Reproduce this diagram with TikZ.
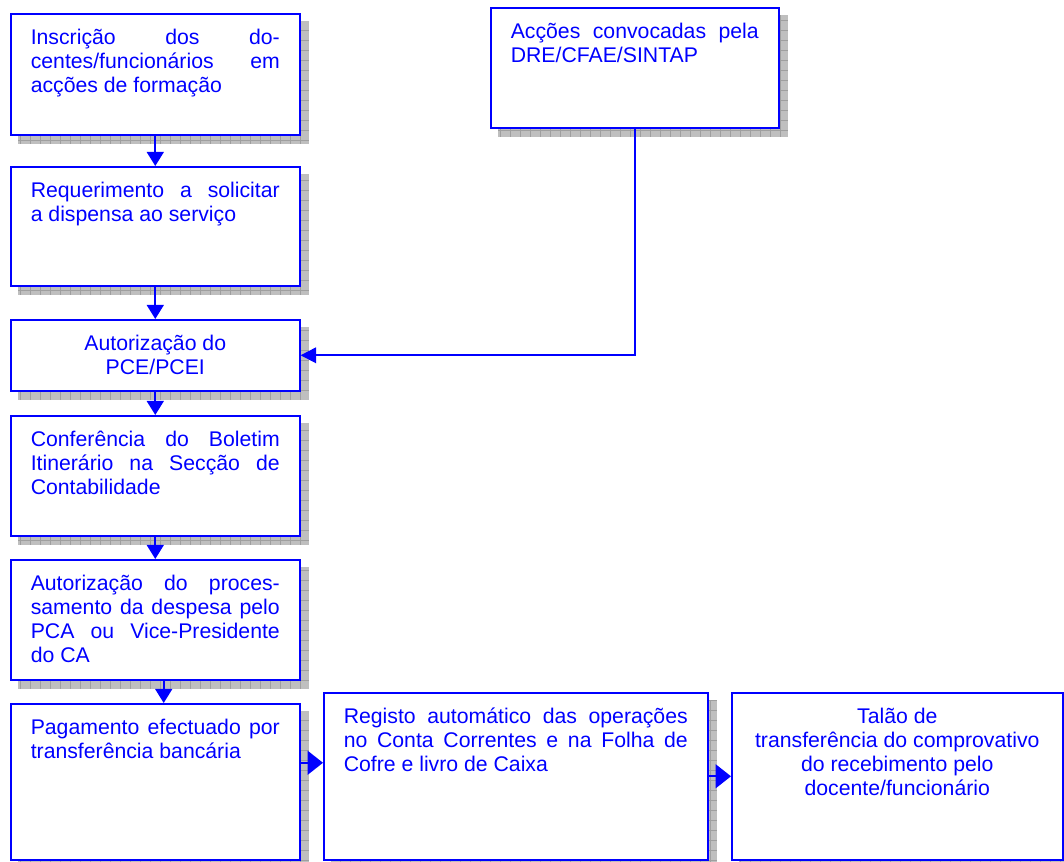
\documentclass[tikz,border=0pt]{standalone}
\usepackage{fontspec}
\setmainfont{Liberation Sans}
\usetikzlibrary{arrows.meta,backgrounds,calc}
\newdimen\pxu
\pxu=0.025cm

\begin{document}
\begin{tikzpicture}[x=0.025cm, y=-0.025cm,
    caixa/.style={draw=blue, line width=1.1pt, fill=white, text=blue,
      anchor=north west, inner xsep=0.5cm, inner ysep=0.35cm,
      font=\fontsize{15.1pt}{17.1pt}\selectfont},
    seta/.style={draw=blue, line width=1.4pt, -{Triangle[width=12pt, length=10pt]}},
    setalarga/.style={seta, -{Triangle[width=17pt, length=11pt]}},
    sombra/.style={fill=gray!50},
    grelha/.style={draw=gray!75, line width=0.4pt}]
  \useasboundingbox (0,0) rectangle (1064,861);

  % coluna da esquerda
  \node[caixa] (ins) at (10,13) {\parbox[t][93\pxu][t]{249\pxu}{\strut Inscrição dos do-\linebreak centes/funcionários em\linebreak acções de formação}};
  \node[caixa] (req) at (10,166) {\parbox[t][91\pxu][t]{249\pxu}{\strut Requerimento a solicitar\linebreak a dispensa ao serviço}};
  \node[caixa] (aut) at (10,319) {\parbox[t][43\pxu][t]{249\pxu}{\centering\strut Autorização do\\ PCE/PCEI}};
  \node[caixa] (conf) at (10,415) {\parbox[t][92\pxu][t]{249\pxu}{\strut Conferência do Boletim\linebreak Itinerário na Secção de\linebreak Contabilidade}};
  \node[caixa] (proc) at (10,559) {\parbox[t][92\pxu][t]{249\pxu}{\strut Autorização do proces-\linebreak samento da despesa pelo\linebreak PCA ou Vice-Presidente\linebreak do CA}};
  \node[caixa] (pag) at (10,703) {\parbox[t][128\pxu][t]{249\pxu}{\strut Pagamento efectuado por\linebreak transferência bancária}};

  % linha de baixo e caixa de cima
  \node[caixa] (reg) at (323,692) {\parbox[t][139\pxu][t]{344\pxu}{\strut Registo automático das operações\linebreak no Conta Correntes e na Folha de\linebreak Cofre e livro de Caixa}};
  \node[caixa] (tal) at (731,692) {\parbox[t][139\pxu][t]{291\pxu}{\centering\strut Talão de\\ transferência do comprovativo\\ do recebimento pelo\\ docente/funcionário}};
  \node[caixa] (dre) at (490,7) {\parbox[t][92\pxu][t]{248\pxu}{\strut Acções convocadas pela\linebreak DRE/CFAE/SINTAP}};

  % sombras
  \begin{scope}[on background layer]
    \foreach \n in {ins,req,aut,conf,proc,pag,reg,tal,dre} {
      \fill[sombra] ($(\n.south west)+(8,8)$) rectangle ($(\n.north east)+(8,8)$);
      \draw[grelha, step=0.25cm] ($(\n.south west)+(8,8)$) grid ($(\n.north east)+(8,8)$);
    }
  \end{scope}

  % ligacoes
  \foreach \a/\b in {ins/req, req/aut, aut/conf, conf/proc}
    \draw[seta] (\a.south) -- (\b.north);
  \draw[seta] ([xshift=6pt]proc.south) -- ([xshift=6pt]pag.north);
  \draw[seta, -{Triangle[width=11pt, length=11pt]}] (dre.south) |- (aut.east);
  \coordinate (entrada) at ($(reg.west)+(0,-13.5)$);
  \draw[setalarga] (pag.east |- entrada) -- (entrada);
  \draw[setalarga] (reg.east) -- (tal.west);
\end{tikzpicture}
\end{document}
